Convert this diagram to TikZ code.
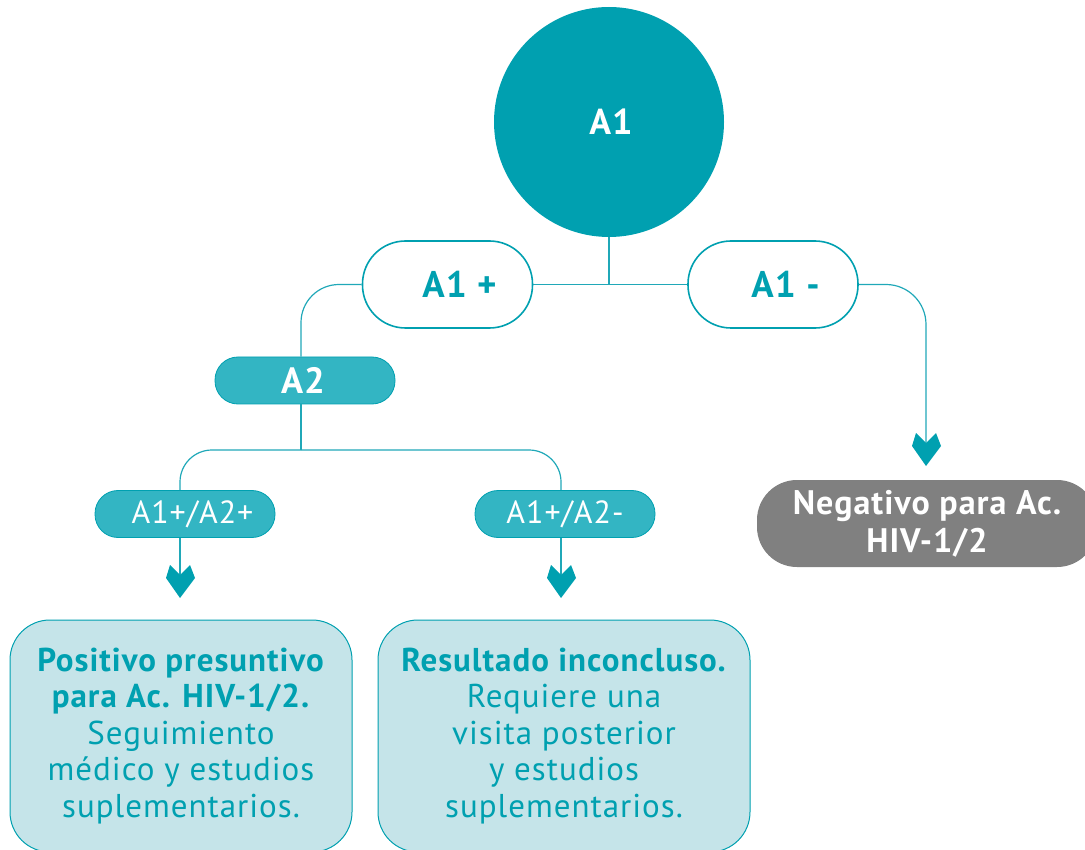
\documentclass[tikz,border=0pt]{standalone}
\usepackage{fontspec}
\setmainfont{PT Sans}[LetterSpace=3]
\usetikzlibrary{positioning}

\definecolor{tealdark}{HTML}{00A0B0}
\definecolor{tealmid}{HTML}{33B5C3}
\definecolor{tealline}{HTML}{20A8B8}
\definecolor{tealpale}{HTML}{C5E4E9}
\definecolor{greybox}{HTML}{808080}

\tikzset{pillout/.style = {shape = rectangle,
                           rounded corners = 43pt,
                           draw = tealdark,
                           line width = 1.6pt,
                           fill = white,
                           minimum width = 170pt,
                           minimum height = 87pt,
                           text = tealdark,
                           font = \fontsize{37}{40}\selectfont\bfseries},
         pillin/.style = {shape = rectangle,
                          rounded corners = 23pt,
                          draw = tealdark,
                          line width = 0.8pt,
                          fill = tealmid,
                          minimum width = 180pt,
                          minimum height = 47pt,
                          text = white},
         resbox/.style = {shape = rectangle,
                          rounded corners = 40pt,
                          draw = tealdark,
                          line width = 1pt,
                          fill = tealpale,
                          text = tealdark,
                          align = center,
                          font = \fontsize{33}{36.5}\selectfont},
         conn/.style = {draw = tealline,
                        line width = 1.2pt}}

\newcommand{\chevron}[1]{\fill[tealdark, shift={(#1)}] (-10,-10) -- (0,0) -- (10,-10)
  -- (15,3) -- (0,23) -- (-14,3) -- cycle;}

\begin{document}
\begin{tikzpicture}[x=1pt, y=-1pt]
	\clip (0,0) rectangle (1085,850);
	% A1 test
	\node[circle, fill=tealdark, minimum size=230pt, inner sep=0pt, text=white,
	      font=\fontsize{36}{40}\selectfont\bfseries] (a1) at (609,122) {\hspace*{4pt}A1};
	\node[pillout] (a1p) at (447.5,284.5) {\hspace*{24pt}A1 +};
	\node[pillout] (a1m) at (773,284.5) {\hspace*{25pt}A1 -};
	\path[conn] (a1p.east) -- (a1m.west);
	\path[conn] (a1.south) -- (a1.south |- a1p.east);
	% A2 test
	\node[pillin, font=\fontsize{36.5}{40}\selectfont\bfseries] (a2) at (305,380.5) {A2\hspace*{4pt}};
	\path[conn, rounded corners=38pt] (a1p.west) -| ([xshift=-4pt]a2.north);
	\coordinate (split) at (301,450);
	\node[pillin, font=\fontsize{32}{34}\selectfont] (p1) at (185,514) {\hspace*{15pt}A1+/A2+};
	\node[pillin, font=\fontsize{32}{34}\selectfont] (p2) at (565,514) {A1+/A2-};
	\path[conn] ([xshift=-4pt]a2.south) -- (split);
	\path[conn, rounded corners=32pt] (split) -| ([xshift=-5pt]p1.north);
	\path[conn, rounded corners=32pt] (split) -| ([xshift=-4pt]p2.north);
	% results
	\coordinate (t1) at (180,575);
	\coordinate (t2) at (561,575);
	\coordinate (t3) at (926,443);
	\path[conn] ([xshift=-5pt]p1.south) -- (t1);
	\path[conn] ([xshift=-4pt]p2.south) -- (t2);
	\path[conn, rounded corners=40pt] (a1m.east) -| (t3);
	\chevron{t1}
	\chevron{t2}
	\chevron{t3}
	\node[resbox, minimum width=342pt, minimum height=232pt] (b1) at (181,736)
	  {\textbf{Positivo presuntivo}\\ \textbf{para Ac. HIV-1/2.}\\ Seguimiento\\
	   médico y estudios\\ suplementarios.};
	\node[resbox, minimum width=372pt, minimum height=232pt] (b2) at (564,736)
	  {\textbf{Resultado inconcluso.}\\ Requiere una\\ visita posterior\\
	   y estudios\\ suplementarios.};
	\node[shape=rectangle, rounded corners=40pt, fill=greybox, text=white,
	      minimum width=340pt, minimum height=87pt, align=center,
	      font=\fontsize{34}{38}\selectfont\bfseries] (neg) at (927,523.5)
	  {Negativo para Ac.\\ HIV-1/2};
\end{tikzpicture}
\end{document}
